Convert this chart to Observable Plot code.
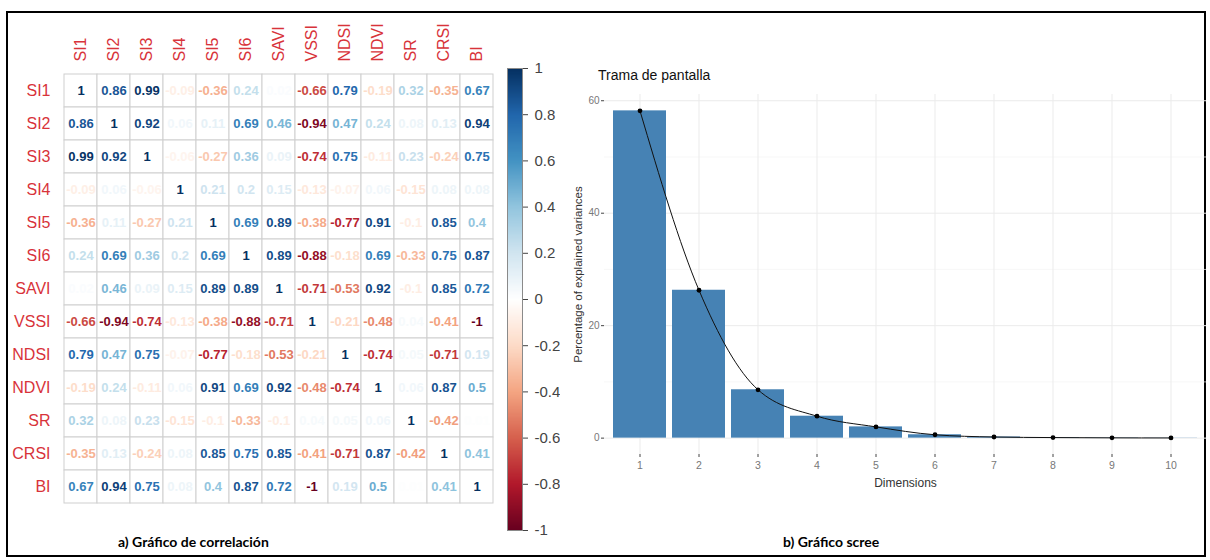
<!DOCTYPE html>
<html>
<head>
<meta charset="utf-8">
<script src="https://cdn.jsdelivr.net/npm/d3@7"></script>
<script src="https://cdn.jsdelivr.net/npm/@observablehq/plot@0.6"></script>
<style>
  body { margin: 0; background: #fff; }
  #wrap { position: relative; width: 1210px; height: 560px; overflow: hidden; background: #fff;
          font-family: "Liberation Sans", Arial, sans-serif; }
  #frame { position: absolute; left: 6px; top: 11px; width: 1200px; height: 546px;
           border: 2px solid #000; box-sizing: border-box; }
  .abs { position: absolute; }
  .cap { position: absolute; font-family: Lato, "Open Sans", sans-serif; font-weight: 700;
         font-size: 14px; color: #000; white-space: nowrap; }
  #title { position: absolute; left: 598px; top: 67px; font-size: 14px; color: #111; white-space: nowrap; }
</style>
</head>
<body>
<div id="wrap">
  <div id="frame"></div>
  <div id="corr" class="abs" style="left:0px;top:0px;"></div>
  <div id="cbar" class="abs" style="left:480px;top:40px;"></div>
  <div id="title">Trama de pantalla</div>
  <div id="scree" class="abs" style="left:560px;top:85px;"></div>
  <div class="cap" style="left:118px;top:533px;">a) Gráfico de correlación</div>
  <div class="cap" style="left:783px;top:533px;">b) Gráfico scree</div>
</div>
<script>
// ---------- data ----------
const variables = ["SI1","SI2","SI3","SI4","SI5","SI6","SAVI","VSSI","NDSI","NDVI","SR","CRSI","BI"];

const corrRows = [
  [ 1,    0.86, 0.99,-0.09,-0.36, 0.24, 0.02,-0.66, 0.79,-0.19, 0.32,-0.35, 0.67],
  [ 0.86, 1,    0.92, 0.06, 0.11, 0.69, 0.46,-0.94, 0.47, 0.24, 0.08, 0.13, 0.94],
  [ 0.99, 0.92, 1,   -0.06,-0.27, 0.36, 0.09,-0.74, 0.75,-0.11, 0.23,-0.24, 0.75],
  [-0.09, 0.06,-0.06, 1,    0.21, 0.2,  0.15,-0.13,-0.07, 0.06,-0.15, 0.08, 0.08],
  [-0.36, 0.11,-0.27, 0.21, 1,    0.69, 0.89,-0.38,-0.77, 0.91,-0.1,  0.85, 0.4 ],
  [ 0.24, 0.69, 0.36, 0.2,  0.69, 1,    0.89,-0.88,-0.18, 0.69,-0.33, 0.75, 0.87],
  [ 0.02, 0.46, 0.09, 0.15, 0.89, 0.89, 1,   -0.71,-0.53, 0.92,-0.1,  0.85, 0.72],
  [-0.66,-0.94,-0.74,-0.13,-0.38,-0.88,-0.71, 1,   -0.21,-0.48, 0.04,-0.41,-1   ],
  [ 0.79, 0.47, 0.75,-0.07,-0.77,-0.18,-0.53,-0.21, 1,   -0.74, 0.05,-0.71, 0.19],
  [-0.19, 0.24,-0.11, 0.06, 0.91, 0.69, 0.92,-0.48,-0.74, 1,    0.06, 0.87, 0.5 ],
  [ 0.32, 0.08, 0.23,-0.15,-0.1, -0.33,-0.1,  0.04, 0.05, 0.06, 1,   -0.42, 0.01],
  [-0.35, 0.13,-0.24, 0.08, 0.85, 0.75, 0.85,-0.41,-0.71, 0.87,-0.42, 1,    0.41],
  [ 0.67, 0.94, 0.75, 0.08, 0.4,  0.87, 0.72,-1,    0.19, 0.5,  0.01, 0.41, 1   ]
];

const colorStops = [-1,-0.8,-0.6,-0.4,-0.2,0,0.2,0.4,0.6,0.8,1];
const rdbuColors = ["#67001F","#B2182B","#D6604D","#F4A582","#FDDBC7","#FFFFFF",
                    "#D1E5F0","#92C5DE","#4393C3","#2166AC","#053061"];
const colorbarTicks = [-1,-0.8,-0.6,-0.4,-0.2,0,0.2,0.4,0.6,0.8,1];

const dimensions = [1,2,3,4,5,6,7,8,9,10];
const explainedVariance = [58.2, 26.3, 8.6, 3.9, 2.0, 0.6, 0.2, 0.1, 0.05, 0.03];
const screeMajorTicks = [0,20,40,60];
const screeMinorTicks = [10,30,50];
const screeXLabel = "Dimensions";
const screeYLabel = "Percentage of explained variances";

// ---------- tables ----------
const cells = [];
variables.forEach((r, i) => variables.forEach((c, j) => cells.push({row: r, col: c, v: corrRows[i][j]})));
const scree = dimensions.map((d, i) => ({dim: d, pct: explainedVariance[i]}));

const colorOpts = {type: "linear", domain: colorStops, range: rdbuColors};
const font = "'Liberation Sans', Arial, sans-serif";

// ---------- correlation matrix ----------
const corr = Plot.plot({
  width: 500, height: 510,
  marginLeft: 58, marginTop: 68, marginRight: 2, marginBottom: 2,
  style: {fontFamily: font, background: "transparent"},
  x: {domain: variables, padding: 0, axis: null},
  y: {domain: variables, padding: 0, axis: null},
  color: colorOpts,
  marks: [
    Plot.cell(cells, {x: "col", y: "row", fill: "white", stroke: "#cfcfcf", strokeWidth: 1}),
    Plot.text(cells, {x: "col", y: "row", text: d => String(d.v), fill: "v",
                      fontSize: 13, fontWeight: "bold"}),
    Plot.axisX({anchor: "top", tickSize: 0, tickRotate: -90, tickPadding: 7,
                fontSize: 16, fill: "#d8333a", label: null}),
    Plot.axisY({anchor: "left", tickSize: 0, tickPadding: 8,
                fontSize: 16, fill: "#d8333a", label: null})
  ]
});
document.getElementById("corr").appendChild(corr);

// ---------- colour bar ----------
const cbar = Plot.plot({
  width: 80, height: 510,
  marginLeft: 27, marginRight: 38, marginTop: 28, marginBottom: 20,
  style: {fontFamily: font, background: "transparent"},
  x: {domain: [0, 1], axis: null},
  y: {domain: [-1, 1], axis: null},
  color: colorOpts,
  marks: [
    Plot.raster({x1: 0, x2: 1, y1: -1, y2: 1, width: 1, height: 400, fill: (x, y) => y, imageRendering: "auto"}),
    Plot.frame({stroke: "#8a8a8a", strokeWidth: 1}),
    Plot.axisY({anchor: "right", ticks: colorbarTicks, tickFormat: d => String(+d.toFixed(1)),
                tickSize: 5, tickPadding: 7, fontSize: 15, fill: "#444", stroke: "#444", label: null})
  ]
});
document.getElementById("cbar").appendChild(cbar);

// ---------- scree plot ----------
const screePlot = Plot.plot({
  width: 650, height: 420,
  marginLeft: 44, marginRight: 4, marginTop: 9, marginBottom: 51,
  style: {fontFamily: font, background: "transparent"},
  x: {type: "band", domain: dimensions, paddingInner: 0.1, paddingOuter: 0.15, axis: null},
  y: {domain: [-2.91, 61.11], axis: null},
  marks: [
    Plot.ruleY(screeMinorTicks, {stroke: "#f3f3f3", strokeWidth: 0.7}),
    Plot.ruleY(screeMajorTicks, {stroke: "#ebebeb", strokeWidth: 1}),
    Plot.gridX({stroke: "#ebebeb", strokeOpacity: 1, strokeWidth: 1}),
    Plot.barY(scree, {x: "dim", y: "pct", fill: "steelblue"}),
    Plot.line(scree, {x: "dim", y: "pct", stroke: "#111", strokeWidth: 1, curve: "monotone-x"}),
    Plot.dot(scree, {x: "dim", y: "pct", r: 2.4, fill: "#000"}),
    Plot.axisY({ticks: screeMajorTicks, tickSize: 3, tickPadding: 2, fontSize: 10,
                fill: "#777", stroke: "#444", label: null}),
    Plot.axisX({tickSize: 3, tickPadding: 4, fontSize: 10.5, fill: "#777", stroke: "#444", label: null}),
    Plot.text([screeXLabel], {text: d => d, frameAnchor: "bottom", textAnchor: "middle", dy: 32,
                              fontSize: 12, fill: "#333"}),
    Plot.text([screeYLabel], {text: d => d, frameAnchor: "left", textAnchor: "middle", rotate: -90,
                              dx: -26, fontSize: 11.5, fill: "#333"})
  ]
});
document.getElementById("scree").appendChild(screePlot);
</script>
</body>
</html>
